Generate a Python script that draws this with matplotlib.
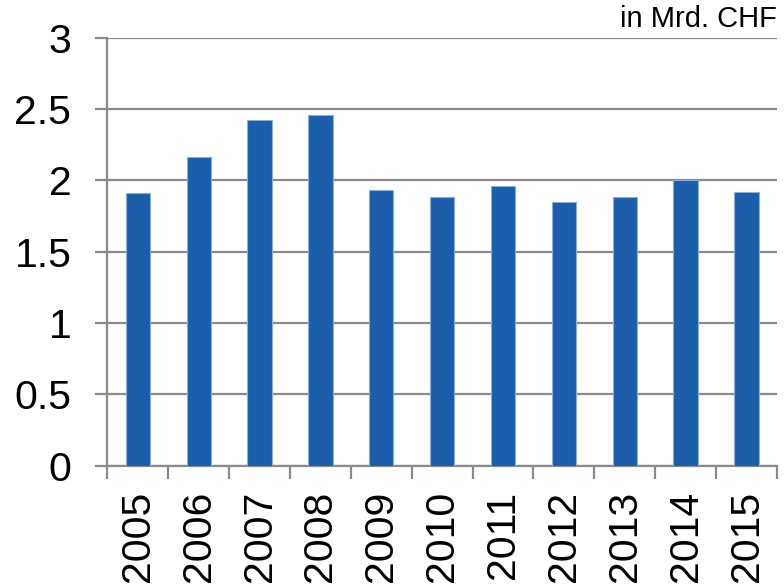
import numpy as np
import matplotlib.pyplot as plt

# Data
years = ['2005', '2006', '2007', '2008', '2009', '2010',
         '2011', '2012', '2013', '2014', '2015']
values = [1.91, 2.16, 2.42, 2.46, 1.93, 1.88, 1.96, 1.85, 1.88, 2.00, 1.92]
y_ticks = [0, 0.5, 1, 1.5, 2, 2.5, 3]
y_tick_labels = ['0', '0.5', '1', '1.5', '2', '2.5', '3']

plt.rcParams['font.family'] = ['Liberation Sans', 'DejaVu Sans']

grey = '#8a8a8a'

fig = plt.figure(figsize=(7.84, 5.86), dpi=100)
ax = fig.add_axes([0.137, 0.205, 0.854, 0.731])

x = np.arange(len(years))
ax.bar(x, values, width=0.4, color='#1b5eab', edgecolor='#8badd8',
       linewidth=0.8, zorder=3)

# Axes limits and grid
ax.set_xlim(-0.5, len(years) - 0.5)
ax.set_ylim(0, 3)
ax.set_yticks(y_ticks)
ax.set_yticklabels(y_tick_labels)
ax.yaxis.grid(True, color=grey, linewidth=1.6, zorder=0)
ax.set_axisbelow(True)

# x ticks: labels at bar centres, tick marks at slot edges
ax.set_xticks(x)
ax.set_xticklabels(years, rotation=90, va='top')
ax.set_xticks(np.arange(-0.5, len(years)), minor=True)
ax.tick_params(axis='x', which='major', length=0, pad=18, labelsize=29.5)
ax.tick_params(axis='x', which='minor', length=9, width=1.6,
               color=grey, direction='out')
ax.tick_params(axis='y', length=9, width=1.6, color=grey,
               direction='out', pad=17, labelsize=29.5)

for side in ['top', 'right']:
    ax.spines[side].set_visible(False)
for side in ['left', 'bottom']:
    ax.spines[side].set_color(grey)
    ax.spines[side].set_linewidth(1.6)

# Unit label
fig.text(0.991, 0.944, 'in Mrd. CHF', ha='right', va='bottom', fontsize=21)

plt.savefig('out.png', dpi=100)
